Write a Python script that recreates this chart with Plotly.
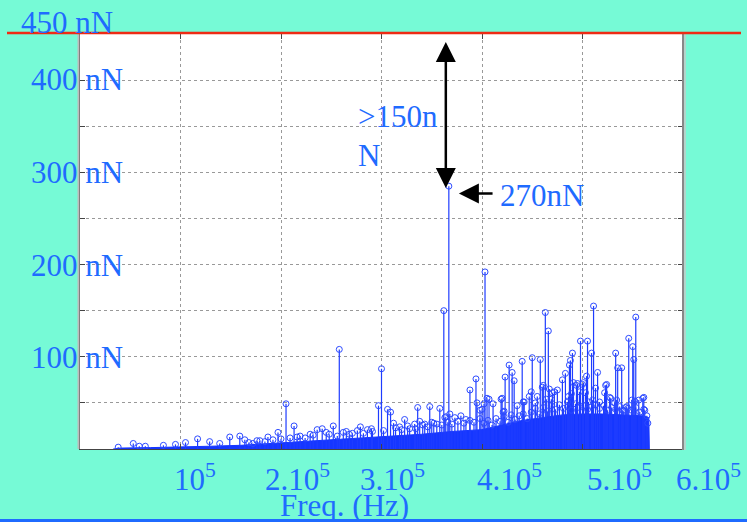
import plotly.graph_objects as go

# ---------------- data ----------------
# prominent stems: frequency (Hz) and amplitude (nN)
peak_freq = [367000, 403000, 362000, 258000, 300000, 205000, 463000, 466000, 511000, 553000,
             546000, 550000, 551000, 498000, 505000, 509000, 533000, 535000, 539000, 490000,
             488000, 487000, 450000, 458000, 440000, 427000, 430000, 423000, 432000, 394000,
             388000, 515000, 504000, 480000, 483000, 461000, 524000, 561000, 297000, 306000,
             309000, 336000, 348000, 358000, 323000, 213000, 197000]
peak_amp = [285, 192, 150, 108, 87, 49, 148, 128, 155, 143,
            120, 111, 97, 117, 117, 104, 104, 88, 88, 104,
            96, 91, 99, 97, 95, 91, 83, 78, 74, 76,
            64, 83, 79, 75, 82, 69, 70, 56, 47, 43,
            40, 45, 46, 44, 32, 25, 18]

# mid-level stems
mid_freq = [405000, 420000, 411000, 441000, 449000, 455000, 435000, 422000, 470000, 475000,
            486000, 491000, 495000, 497000, 501000, 510000, 513000, 523000, 522000, 528000,
            534000, 543000, 549000, 556000, 560000, 400000, 447000,
            363000, 398000, 402000, 407000, 419000, 421000, 442000, 453000, 460000, 464000,
            467000, 469000, 472000, 485000, 489000, 494000, 500000, 503000, 506000, 517000,
            527000, 532000, 540000, 544000, 552000, 562000, 565000]
mid_amp = [55, 55, 49, 51, 62, 57, 47, 41, 61, 64,
           57, 72, 71, 62, 72, 53, 66, 69, 61, 55,
           53, 45, 53, 53, 55, 43, 57,
           34, 42, 49, 54, 54, 40, 51, 50, 67, 54,
           65, 54, 62, 51, 60, 69, 70, 61, 51, 51,
           56, 50, 42, 46, 52, 42, 28]

# low-level stems
low_freq = [38000, 53000, 59000, 65000, 83000, 95000, 105000, 117000, 129000, 139000,
            149000, 159000, 164000, 172000, 179000, 187000, 209000, 219000, 229000, 236000,
            241000, 245000, 252000, 265000, 271000, 279000, 286000, 291000, 312000, 318000,
            328000, 333000, 338000, 343000, 350000, 355000, 364000, 368000, 373000, 379000,
            384000, 395000]
low_amp = [2, 6, 3, 3, 4, 5, 7, 11, 8, 6,
           13, 14, 10, 6, 9, 13, 12, 14, 16, 21,
           22, 18, 25, 19, 17, 24, 21, 19, 28, 24,
           22, 27, 30, 27, 29, 27, 35, 38, 34, 36,
           32, 50]

# dense fringe of short stems above the solid floor
fringe_freq = [168000, 176000, 184000, 192000, 200000, 216000, 224000, 232000, 248000, 256000,
               262000, 268000, 276000, 282000, 290000, 302000, 314000, 320000, 326000, 334000,
               341000, 346000, 352000, 360000, 366000, 370000, 376000, 382000, 388000, 392000,
               398000, 402000, 406000, 410000, 414000, 418000, 422000, 426000, 429000, 433000,
               437000, 441000, 445000, 449000, 453000, 457000, 461000, 465000, 469000, 473000,
               477000, 481000, 485000, 489000, 493000, 497000, 501000, 505000, 509000, 513000,
               517000, 521000, 525000, 529000, 533000, 537000, 541000, 545000, 549000, 553000,
               557000, 561000, 564000]
fringe_amp = [7, 9, 8, 10, 11, 13, 12, 15, 16, 14,
              18, 16, 20, 17, 22, 20, 23, 21, 25, 22,
              26, 24, 28, 26, 29, 27, 30, 28, 31, 29,
              33, 28, 31, 26, 33, 30, 35, 29, 37, 32,
              36, 38, 33, 40, 44, 38, 45, 41, 47, 43,
              48, 44, 46, 42, 49, 45, 47, 43, 46, 48,
              44, 47, 42, 45, 43, 46, 41, 44, 42, 45,
              40, 43, 36]

# solid floor of the spectrum (upper outline of the solid blue mass)
env_freq = [33000, 40000, 70000, 100000, 130000, 160000, 190000, 220000, 250000, 280000,
            310000, 340000, 370000, 400000, 420000, 440000, 460000, 480000, 500000, 520000,
            540000, 560000, 566000, 566500]
env_amp = [0, 1, 1.5, 2, 3, 4, 6, 8, 10, 12,
           14, 16, 19, 21, 26, 31, 34, 37, 38, 38,
           37, 36, 34, 0]

# hand-placed tick labels
x_label_text = ["10<sup>5</sup>", "2.10<sup>5</sup>", "3.10<sup>5</sup>",
                "4.10<sup>5</sup>", "5.10<sup>5</sup>", "6.10<sup>5</sup>"]
y_label_text = ["450 nN", "400 nN", "300 nN", "200 nN", "100 nN"]

# ---------------- layout helpers ----------------
W, H = 747, 522
L, R, T, B = 80, 683, 34, 449


def px(xp):
    return (xp - L) / (R - L)


def py(yp):
    return (B - yp) / (B - T)


BLUE_TXT = "#1f6bff"
STEM = "#1536ff"
FONT = "Liberation Serif"

all_f = peak_freq + mid_freq + low_freq + fringe_freq
all_a = peak_amp + mid_amp + low_amp + fringe_amp
sx, sy = [], []
for f, a in zip(all_f, all_a):
    sx += [f, f, None]
    sy += [0, a, None]

fig = go.Figure()
fig.add_trace(go.Scatter(x=env_freq, y=env_amp, mode="lines", fill="tozeroy",
                         fillcolor=STEM, line=dict(color=STEM, width=1),
                         hoverinfo="skip", showlegend=False))
fig.add_trace(go.Scatter(x=sx, y=sy, mode="lines",
                         line=dict(color="rgb(30,60,255)", width=1.2),
                         hoverinfo="skip", showlegend=False))
fig.add_trace(go.Scatter(x=all_f, y=all_a, mode="markers",
                         marker=dict(symbol="circle-open", size=6,
                                     color="rgb(45,75,255)", line=dict(width=1)),
                         hoverinfo="skip", showlegend=False))

fig.update_layout(
    width=W, height=H,
    margin=dict(l=L, r=W - R, t=T, b=H - B),
    paper_bgcolor="#76fad6",
    plot_bgcolor="white",
    showlegend=False,
    font=dict(family=FONT, color=BLUE_TXT, size=31),
)
fig.update_xaxes(range=[0, 600000], dtick=100000, tick0=0, showticklabels=False,
                 showgrid=True, gridcolor="#999", griddash="dot", gridwidth=1,
                 showline=True, linecolor="#444", linewidth=1, mirror="ticks",
                 ticks="inside", ticklen=5, tickcolor="#444", zeroline=False)
fig.update_yaxes(range=[0, 450], dtick=50, tick0=0, showticklabels=False,
                 showgrid=True, gridcolor="#999", griddash="dot", gridwidth=1,
                 showline=True, linecolor="#444", linewidth=1, mirror="ticks",
                 ticks="inside", ticklen=5, tickcolor="#444", zeroline=False)

ann = []
# x tick labels
x_label_px = [195, 297, 392, 509, 619, 708]
for t, xp in zip(x_label_text, x_label_px):
    ann.append(dict(text=t, x=px(xp), y=py(477), xref="paper", yref="paper",
                    showarrow=False, xanchor="center", yanchor="middle"))
# y tick labels
y_label_px = [(19, 22), (29, 79), (29, 172), (29, 265), (29, 357)]
for t, (xp, yp) in zip(y_label_text, y_label_px):
    ann.append(dict(text=t, x=px(xp), y=py(yp), xref="paper", yref="paper",
                    showarrow=False, xanchor="left", yanchor="middle"))
# axis title
ann.append(dict(text="Freq. (Hz)", x=px(344), y=py(505), xref="paper", yref="paper",
                showarrow=False, xanchor="center", yanchor="middle"))
# text notes
ann.append(dict(text=">150n", x=px(356), y=py(116), xref="paper", yref="paper",
                showarrow=False, xanchor="left", yanchor="middle"))
ann.append(dict(text="N", x=px(356), y=py(155), xref="paper", yref="paper",
                showarrow=False, xanchor="left", yanchor="middle"))
ann.append(dict(text="270nN", x=px(498), y=py(196), xref="paper", yref="paper",
                showarrow=False, xanchor="left", yanchor="middle"))
# double arrow
ann.append(dict(text="", x=364000, y=283, ax=364000, ay=443, xref="x", yref="y",
                axref="x", ayref="y", showarrow=True, arrowside="end+start",
                arrowhead=2, startarrowhead=2, arrowsize=1.6, startarrowsize=1.6,
                arrowwidth=2.5, arrowcolor="black"))
# left arrow
ann.append(dict(text="", x=377000, y=277, ax=412000, ay=277, xref="x", yref="y",
                axref="x", ayref="y", showarrow=True, arrowhead=2, arrowsize=1.6,
                arrowwidth=2.5, arrowcolor="black"))
fig.update_layout(annotations=ann)

shapes = [
    # plot frame shading
    dict(type="line", xref="paper", yref="paper", x0=px(78.5), x1=px(78.5), y0=py(449), y1=py(34),
         line=dict(color="#bbbbbb", width=2)),
    dict(type="line", xref="paper", yref="paper", x0=px(683), x1=px(683), y0=py(450), y1=py(34),
         line=dict(color="#888888", width=2)),
    dict(type="line", xref="paper", yref="paper", x0=px(685), x1=px(685), y0=py(450), y1=py(34),
         line=dict(color="#c8c8c8", width=1.5)),
    # red line at the top
    dict(type="line", xref="paper", yref="paper", x0=px(7), x1=px(741), y0=py(33), y1=py(33),
         line=dict(color="#ee2b14", width=2.5)),
    # blue line at the bottom
    dict(type="line", xref="paper", yref="paper", x0=px(0), x1=px(747), y0=py(520.5), y1=py(520.5),
         line=dict(color="#1f6bff", width=3)),
]
fig.update_layout(shapes=shapes)

fig.write_html("out.html")
